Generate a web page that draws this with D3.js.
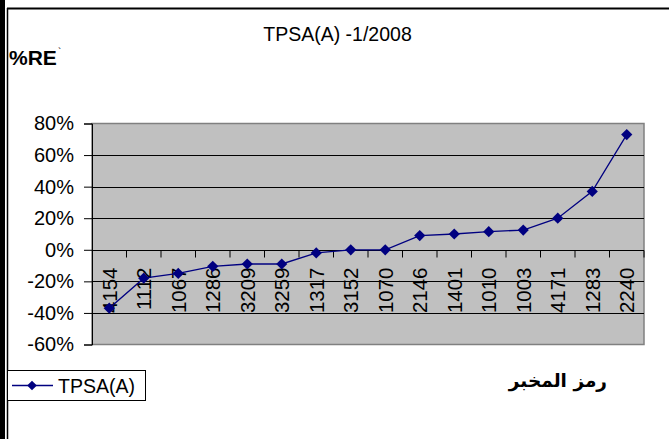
<!DOCTYPE html>
<html>
<head>
<meta charset="utf-8">
<script src="https://cdn.jsdelivr.net/npm/d3@7"></script>
<style>
  body { margin: 0; background: #fff; }
  svg { display: block; font-family: "Liberation Sans", Arial, "DejaVu Sans", sans-serif; }
</style>
</head>
<body>
<svg id="chart" width="669" height="439"></svg>
<script>
// lab codes, in the order they are plotted
var labs = ["4154", "1112", "1067", "1286", "3209", "3259", "1317", "3152",
            "1070", "2146", "1401", "1010", "1003", "4171", "1283", "2240"];
// relative error in percent
var relErr = [-37, -18, -15, -10.5, -9, -9, -2, 0, 0, 9, 10, 11.5, 12.5, 20, 37, 73];
var yTicks = [-60, -40, -20, 0, 20, 40, 60, 80];
var seriesName = "TPSA(A)";
var titleText = "TPSA(A) -1/2008";
var yTitle = "%RE";
var xTitle = "رمز المخبر";

var svg = d3.select("#chart");
var navy = "#000080";

// page frame: thick bar on the left, rule on top
svg.append("rect").attr("x", 0).attr("y", 0).attr("width", 5).attr("height", 439).attr("fill", "#000");
svg.append("line").attr("x1", 7.5).attr("x2", 7.5).attr("y1", 8).attr("y2", 439).attr("stroke", "#000").attr("stroke-width", 1.5);
svg.append("line").attr("x1", 7).attr("x2", 669).attr("y1", 8.5).attr("y2", 8.5).attr("stroke", "#000").attr("stroke-width", 2);

var plotL = 92, plotR = 644, plotT = 123.5, plotB = 344.5;

var x = d3.scaleBand().domain(labs).range([plotL, plotR]);
var y = d3.scaleLinear().domain([-60, 80]).range([plotB, plotT]);

// plot area
svg.append("rect")
    .attr("x", plotL).attr("y", plotT)
    .attr("width", plotR - plotL).attr("height", plotB - plotT)
    .attr("fill", "#c0c0c0").attr("stroke", "#808080").attr("stroke-width", 1.5);

// gridlines
svg.append("g").selectAll("line")
    .data(yTicks.filter(function(d) { return d > -60 && d < 80; }))
    .enter().append("line")
    .attr("x1", plotL).attr("x2", plotR)
    .attr("y1", function(d) { return Math.round(y(d)) + 0.5; })
    .attr("y2", function(d) { return Math.round(y(d)) + 0.5; })
    .attr("stroke", "#000").attr("stroke-width", 1);

// y axis
var yAxis = svg.append("g")
    .attr("transform", "translate(" + plotL + ",0)")
    .call(d3.axisLeft(y).tickValues(yTicks).tickSize(8).tickPadding(10)
        .tickFormat(function(d) { return d + "%"; }));
yAxis.select(".domain").attr("stroke", "#000");
yAxis.selectAll(".tick line").attr("stroke", "#000");
yAxis.selectAll("text").attr("font-size", 20).attr("fill", "#000")
    .attr("font-family", "'Liberation Sans', Arial, sans-serif");

// category axis on the zero line
var xAxis = svg.append("g")
    .attr("transform", "translate(0," + (Math.round(y(0)) + 0.5) + ")");
xAxis.append("line").attr("x1", plotL).attr("x2", plotR).attr("stroke", "#000");
xAxis.selectAll(".cat-tick")
    .data(labs)
    .enter().append("line")
    .attr("class", "cat-tick")
    .attr("x1", function(d) { return x(d) + x.bandwidth(); })
    .attr("x2", function(d) { return x(d) + x.bandwidth(); })
    .attr("y1", 0).attr("y2", 7)
    .attr("stroke", "#000");
xAxis.selectAll(".cat-label")
    .data(labs)
    .enter().append("text")
    .attr("class", "cat-label")
    .attr("transform", function(d) {
        return "translate(" + (x(d) + x.bandwidth() / 2) + ",17) rotate(-90)";
    })
    .attr("text-anchor", "end")
    .attr("dy", "0.36em")
    .attr("font-size", 20.5)
    .attr("fill", "#000")
    .text(function(d) { return d; });

// series line and diamonds
var line = d3.line()
    .x(function(d, i) { return x(labs[i]) + x.bandwidth() / 2; })
    .y(function(d) { return y(d); });

svg.append("path")
    .datum(relErr)
    .attr("d", line)
    .attr("fill", "none")
    .attr("stroke", navy)
    .attr("stroke-width", 1.3);

var diamond = d3.symbol().type(d3.symbolDiamond2).size(80);
svg.append("g").selectAll("path")
    .data(relErr)
    .enter().append("path")
    .attr("d", diamond)
    .attr("transform", function(d, i) {
        return "translate(" + (x(labs[i]) + x.bandwidth() / 2) + "," + y(d) + ")";
    })
    .attr("fill", navy);

// titles
svg.append("text")
    .attr("x", 337.5).attr("y", 40.5)
    .attr("text-anchor", "middle")
    .attr("font-size", 19.5)
    .text(titleText);

svg.append("text")
    .attr("x", 9).attr("y", 65)
    .attr("font-size", 21).attr("font-weight", "bold")
    .text(yTitle);
svg.append("text")
    .attr("x", 58).attr("y", 56)
    .attr("font-size", 10)
    .text("`");

svg.append("text")
    .attr("x", 607).attr("y", 387)
    .attr("text-anchor", "end")
    .attr("font-size", 18.5).attr("font-weight", "bold")
    .attr("font-family", "'DejaVu Sans', sans-serif")
    .text(xTitle);

// legend
var legend = svg.append("g");
legend.append("rect")
    .attr("x", 7.5).attr("y", 370.5).attr("width", 138).attr("height", 30)
    .attr("fill", "#fff").attr("stroke", "#000");
legend.append("line")
    .attr("x1", 12).attr("x2", 53).attr("y1", 385.5).attr("y2", 385.5)
    .attr("stroke", navy).attr("stroke-width", 1.3);
legend.append("path")
    .attr("d", d3.symbol().type(d3.symbolDiamond2).size(60))
    .attr("transform", "translate(32,385.5)")
    .attr("fill", navy);
legend.append("text")
    .attr("x", 58).attr("y", 392.5)
    .attr("font-size", 19.5)
    .text(seriesName);
</script>
</body>
</html>
